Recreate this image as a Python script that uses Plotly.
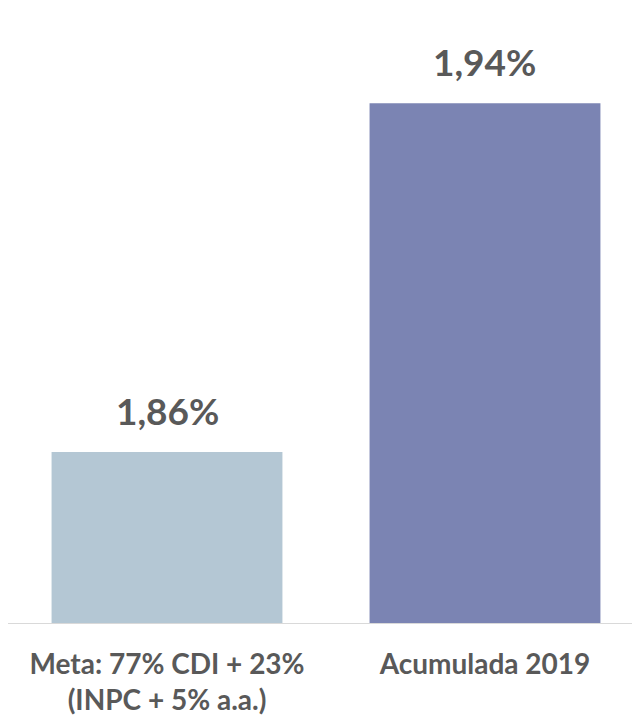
import plotly.graph_objects as go

categories = ["Meta: 77% CDI + 23%<br>(INPC + 5% a.a.)", "Acumulada 2019"]
values = [1.86, 1.94]
labels = ["1,86%", "1,94%"]
colors = ["#B4C7D4", "#7B84B3"]

fig = go.Figure()
fig.add_trace(go.Bar(
    x=[0, 1], y=values, marker=dict(color=colors, line=dict(width=0)),
    width=0.726, hoverinfo="skip",
))
for i, (v, t) in enumerate(zip(values, labels)):
    fig.add_annotation(x=i, y=v, text=t, showarrow=False, yanchor="bottom",
                       yshift=17, font=dict(family="Lato", size=37, color="#595959", weight="bold"))

fig.update_layout(
    width=640, height=720,
    margin=dict(l=0, r=0, t=4, b=105),
    paper_bgcolor="white", plot_bgcolor="white",
    showlegend=False,
    font=dict(family="Lato", color="#595959"),
    xaxis=dict(
        tickmode="array", tickvals=[0, 1], ticktext=categories,
        range=[-0.5, 1.5126], showgrid=False, zeroline=False,
        showline=True, linecolor="#D9D9D9", linewidth=1,
        ticks="", ticklabelstandoff=16, automargin=False,
        tickfont=dict(family="Lato", size=28, color="#595959", weight="bold"),
    ),
    yaxis=dict(range=[1.8208, 1.9609], visible=False, showgrid=False),
)
fig.write_html("out.html")
